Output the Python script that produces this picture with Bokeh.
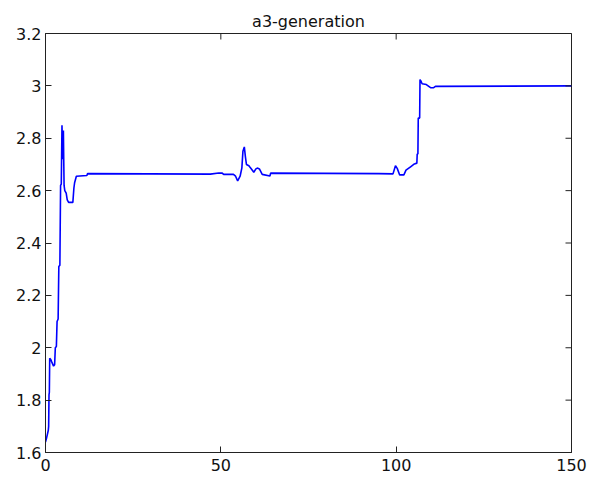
import math
from bokeh.plotting import figure
from bokeh.models import FixedTicker, Range1d
from bokeh.embed import file_html
from bokeh.resources import INLINE

# ---- data ----
t = [0, 0.3, 0.8, 0.9, 1.0, 1.1, 1.2, 1.5, 1.8, 2.3, 2.6, 2.8, 3.1, 3.3, 3.6,
     3.8, 4.1, 4.3, 4.5, 4.7, 4.85, 5.0, 5.1, 5.2, 5.3, 5.5, 5.9, 6.2, 6.6,
     7.8, 8.1, 8.3, 8.8, 11.8, 12.0, 47.0, 49.4, 50.4, 50.8, 53.6, 54.2, 54.8,
     55.5, 56.0, 56.3, 56.7, 57.0, 57.3, 58.0, 58.5, 59.4, 60.0, 60.4, 61.0,
     61.8, 64.0, 64.2, 95.0, 99.1, 99.8, 100.3, 101.0, 102.2, 102.8, 104.2,
     105.2, 105.9, 106.0, 106.2, 106.3, 106.7, 106.8, 107.0, 107.4, 108.6,
     109.8, 110.7, 111.2, 150.0]
a3 = [1.64, 1.655, 1.685, 1.70, 1.82, 1.83, 1.96, 1.955, 1.945, 1.93, 1.935,
      2.0, 2.005, 2.1, 2.11, 2.31, 2.315, 2.62, 2.625, 2.85, 2.76, 2.72, 2.83,
      2.72, 2.62, 2.6, 2.59, 2.565, 2.555, 2.555, 2.61, 2.63, 2.655, 2.658,
      2.665, 2.663, 2.667, 2.667, 2.662, 2.662, 2.655, 2.637, 2.655, 2.687,
      2.75, 2.767, 2.73, 2.70, 2.695, 2.686, 2.67, 2.683, 2.686, 2.683, 2.662,
      2.656, 2.667, 2.665, 2.664, 2.695, 2.685, 2.66, 2.66, 2.678, 2.692,
      2.702, 2.705, 2.74, 2.74, 2.877, 2.877, 3.024, 3.02, 3.008, 3.005,
      2.993, 2.993, 2.998, 3.0]

x_ticks = [0, 50, 100, 150]
y_ticks = [1.6, 1.8, 2.0, 2.2, 2.4, 2.6, 2.8, 3.0, 3.2]
y_tick_labels = ["1.6", "1.8", "2", "2.2", "2.4", "2.6", "2.8", "3", "3.2"]
x_lim = (0, 150)
y_lim = (1.6, 3.2)
title_text = "a3-generation"

FONT = "DejaVu Sans"
FS = "16px"
INK = "#222222"

p = figure(width=588, height=478,
           x_range=Range1d(*x_lim), y_range=Range1d(*y_lim),
           output_backend="svg", toolbar_location=None,
           min_border_left=45, min_border_right=17,
           min_border_top=33, min_border_bottom=26)

p.title.text = title_text
p.title.align = "center"
p.title.text_font = FONT
p.title.text_font_size = FS
p.title.text_font_style = "normal"
p.title.text_color = "#111111"
p.title.standoff = 6

p.line(t, a3, line_color="#0000ff", line_width=1.6)

p.xgrid.visible = False
p.ygrid.visible = False
p.outline_line_color = INK
p.outline_line_width = 1
p.background_fill_color = "white"
p.border_fill_color = "white"

p.xaxis.ticker = FixedTicker(ticks=x_ticks, minor_ticks=[])
p.yaxis.ticker = FixedTicker(ticks=y_ticks, minor_ticks=[])
p.yaxis.major_label_overrides = {tk: lb for tk, lb in zip(y_ticks, y_tick_labels)}

for ax in list(p.xaxis) + list(p.yaxis):
    ax.major_tick_in = 6
    ax.major_tick_out = 0
    ax.minor_tick_in = 0
    ax.minor_tick_out = 0
    ax.axis_line_color = INK
    ax.major_tick_line_color = INK
    ax.major_label_text_font = FONT
    ax.major_label_text_font_size = FS
    ax.major_label_text_color = "#111111"
p.xaxis.major_label_standoff = 6
p.yaxis.major_label_standoff = 4

# box tick marks on the top and right edges (half of each dash is clipped by the frame)
p.scatter(x=x_ticks, y=[y_lim[1]] * len(x_ticks), marker="dash", size=12,
          angle=math.pi / 2, line_color=INK, line_width=1)
p.scatter(x=[x_lim[1]] * len(y_ticks), y=y_ticks, marker="dash", size=12,
          line_color=INK, line_width=1)

open("out.html", "w").write(file_html(p, INLINE))
